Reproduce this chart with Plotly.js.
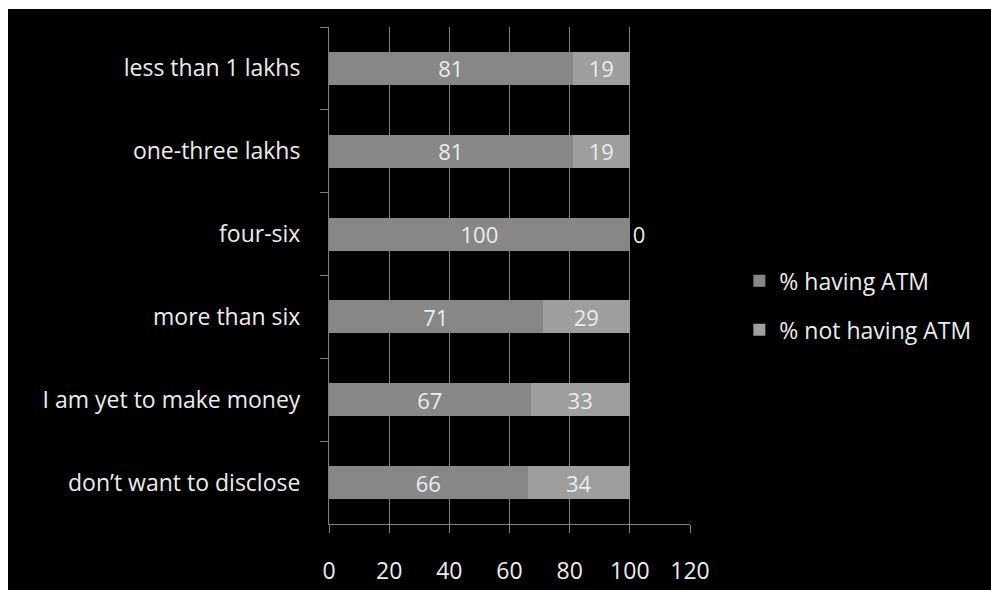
<!DOCTYPE html>
<html>
<head>
<meta charset="utf-8">
<script src="https://cdn.plot.ly/plotly-3.0.1.min.js"></script>
<style>
  html, body { margin: 0; padding: 0; background: #ffffff; }
  #chart { position: absolute; left: 8px; top: 9px; width: 983px; height: 581px; }
</style>
</head>
<body>
<div id="chart"></div>
<script>
const categories = [
  "less than 1 lakhs",
  "one-three lakhs",
  "four-six",
  "more than six",
  "I am yet to make money",
  "don\u2019t want to disclose"
];
const havingATM = [81, 81, 100, 71, 67, 66];
const notHavingATM = [19, 19, 0, 29, 33, 34];
const seriesNames = ["% having ATM", "% not having ATM"];
const xTicks = [0, 20, 40, 60, 80, 100, 120];

const FONT = "Open Sans, Noto Sans, sans-serif";
const textColor = "#ececec";
const FS = 23;
const LS = 22;

function posFor(vals) { return vals.map(v => v === 0 ? "outside" : "inside"); }

const traces = [
  {
    type: "bar", orientation: "h", name: seriesNames[0],
    y: categories, x: havingATM,
    text: havingATM.map(String), textposition: posFor(havingATM),
    insidetextanchor: "middle", textangle: 0, constraintext: "none",
    textfont: {family: FONT, size: LS, color: textColor},
    marker: {color: "#878787"},
    legendgroup: "a", hoverinfo: "x+y"
  },
  {
    type: "bar", orientation: "h", name: seriesNames[1],
    y: categories, x: notHavingATM,
    text: notHavingATM.map(String), textposition: posFor(notHavingATM),
    insidetextanchor: "middle", textangle: 0, constraintext: "none",
    textfont: {family: FONT, size: LS, color: textColor},
    outsidetextfont: {family: FONT, size: LS, color: textColor},
    cliponaxis: false,
    marker: {color: "#9e9e9e"},
    legendgroup: "b", hoverinfo: "x+y"
  }
];

const layout = {
  width: 983, height: 581,
  paper_bgcolor: "#000000", plot_bgcolor: "#000000",
  margin: {l: 321, r: 301, t: 18, b: 66, pad: 0},
  barmode: "stack", bargap: 0.6,
  font: {family: FONT, size: FS, color: textColor},
  showlegend: true,
  legend: {
    xref: "container", yref: "container",
    x: 0.744, y: 0.49, xanchor: "left", yanchor: "middle",
    font: {family: FONT, size: FS, color: textColor},
    bgcolor: "rgba(0,0,0,0)", tracegroupgap: 16,
    itemwidth: 30
  },
  xaxis: {
    range: [0, 120], tickvals: xTicks, ticktext: xTicks.map(String),
    showgrid: true, gridcolor: "#7f7f7f", gridwidth: 1,
    showline: true, linecolor: "#7f7f7f", linewidth: 1,
    ticks: "outside", ticklen: 8, tickcolor: "#7f7f7f",
    zeroline: false, fixedrange: true,
    tickfont: {family: FONT, size: FS, color: textColor},
    ticklabelstandoff: 18
  },
  yaxis: {
    type: "category", autorange: "reversed",
    showgrid: false, showline: true, linecolor: "#7f7f7f", linewidth: 1,
    ticks: "outside", ticklen: 8, tickcolor: "#7f7f7f",
    tickson: "boundaries", fixedrange: true,
    tickfont: {family: FONT, size: FS, color: textColor},
    ticklabelstandoff: 23
  }
};

Plotly.newPlot("chart", traces, layout, {displayModeBar: false, staticPlot: true});
</script>
</body>
</html>
